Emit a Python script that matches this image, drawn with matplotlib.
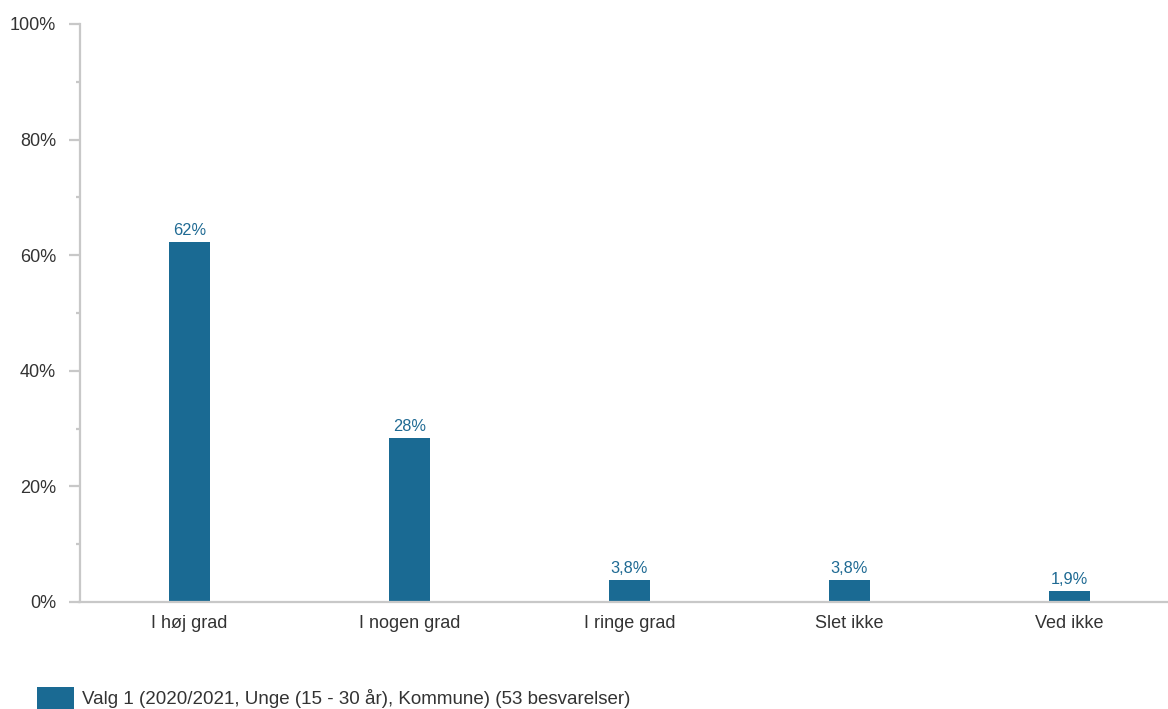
import matplotlib
matplotlib.use("Agg")
import matplotlib.pyplot as plt
from matplotlib.ticker import MultipleLocator, FuncFormatter

categories = ["I høj grad", "I nogen grad", "I ringe grad", "Slet ikke", "Ved ikke"]
values = [62.26, 28.30, 3.77, 3.77, 1.89]
value_labels = ["62%", "28%", "3,8%", "3,8%", "1,9%"]
series_name = "Valg 1 (2020/2021, Unge (15 - 30 år), Kommune) (53 besvarelser)"

plt.rcParams['font.family'] = ['Liberation Sans', 'DejaVu Sans']

W, H = 1168, 709
fig = plt.figure(figsize=(W / 100, H / 100), dpi=100)
left, right, top, bottom = 79.5, 1179, 24, 602
ax = fig.add_axes([left / W, 1 - bottom / H, (right - left) / W, (bottom - top) / H])

bar_color = "#1a6a93"
bars = ax.bar(range(len(categories)), values, width=0.186, color=bar_color, label=series_name, zorder=2)
for b, lab in zip(bars, value_labels):
    ax.annotate(lab, (b.get_x() + b.get_width() / 2, b.get_height()), xytext=(0, 3),
                textcoords="offset points", ha="center", va="bottom", fontsize=11.8, color="#1f6a93")

ax.set_xlim(-0.5, len(categories) - 0.5)
ax.set_ylim(0, 100)
ax.set_xticks(range(len(categories)))
ax.set_xticklabels(categories)
ax.yaxis.set_major_locator(MultipleLocator(20))
ax.yaxis.set_minor_locator(MultipleLocator(10))
ax.yaxis.set_major_formatter(FuncFormatter(lambda v, p: f"{v:.0f}%"))

spine_c = "#c8c8c8"
for s in ["top", "right"]:
    ax.spines[s].set_visible(False)
for s in ["left", "bottom"]:
    ax.spines[s].set_color(spine_c)
    ax.spines[s].set_linewidth(1.6)
ax.tick_params(axis="y", which="major", length=8, width=1.6, color=spine_c, labelsize=13, labelcolor="#333333", pad=9)
ax.tick_params(axis="y", which="minor", length=3, width=1.6, color=spine_c)
ax.tick_params(axis="x", length=0, labelsize=13, labelcolor="#333333", pad=9)

fig.legend(handles=[bars], labels=[series_name], loc="center left",
           bbox_to_anchor=(37 / W, 1 - 698 / H), frameon=False, fontsize=13.5,
           handlelength=1.97, handleheight=1.35, handletextpad=0.42, labelcolor="#333333",
           borderaxespad=0, borderpad=0)

fig.savefig("out.png", dpi=100)
